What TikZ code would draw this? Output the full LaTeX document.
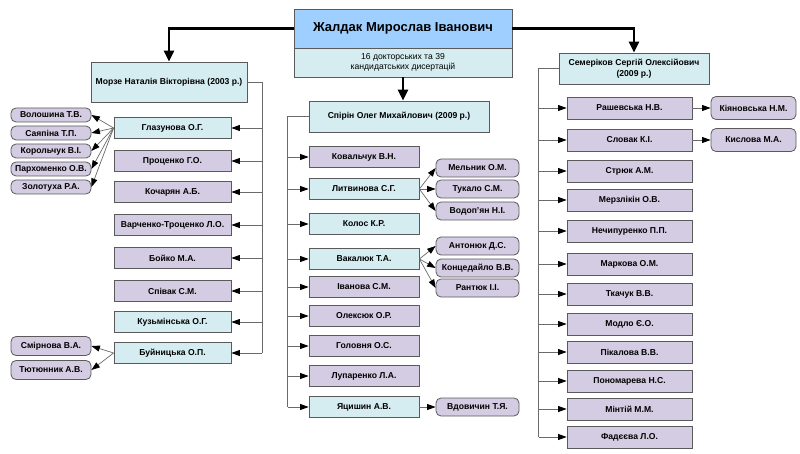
\documentclass[tikz,border=0pt]{standalone}
\usepackage{fontspec}
\setmainfont{Liberation Sans}
\usetikzlibrary{arrows.meta}
\definecolor{lav}{HTML}{D4CCE2}
\definecolor{cyn}{HTML}{D5EDF1}
\definecolor{topblue}{HTML}{9FCFFF}
\definecolor{bord}{HTML}{5A5A5A}
\definecolor{lin}{HTML}{6A6A6A}
\tikzset{
  base/.style={draw=bord, line width=0.8pt, inner sep=1pt, align=center, font=\bfseries\fontsize{8.6}{10.5}\selectfont},
  pbox/.style={base, fill=lav},
  cbox/.style={base, fill=cyn},
  rbox/.style={base, fill=lav, rounded corners=5pt},
  conn/.style={draw=lin, line width=0.7pt, -{Triangle[width=6pt,length=8.5pt,fill=black,color=black]}},
  trunk/.style={draw=lin, line width=0.7pt},
  big/.style={draw=black, line width=2.4pt, -{Triangle[width=10pt,length=11pt]}},
}
\begin{document}
\begin{tikzpicture}[x=1pt,y=-1pt]
\useasboundingbox (0,0) rectangle (800,454);
% top
\node[base, fill=topblue, minimum width=218pt, minimum height=39pt, font=\bfseries\fontsize{13}{15}\selectfont] (topU) at (403,28.5) {Жалдак Мирослав Іванович};
\node[base, fill=cyn, minimum width=218pt, minimum height=29pt, font=\fontsize{8.6}{10.5}\selectfont] (topL) at (403,62.5) {16 докторських та 39\\кандидатських дисертацій};
% heads
\node[cbox, minimum width=156pt, minimum height=40pt] (morze) at (169,82) {Морзе Наталія Вікторівна (2003 р.)};
\node[cbox, minimum width=180pt, minimum height=31pt] (spirin) at (399,116.5) {Спірін Олег Михайлович (2009 р.)};
\node[cbox, minimum width=150pt, minimum height=31pt] (sem) at (634,68.5) {Семеріков Сергій Олексійович\\(2009 р.)};
\draw[big] (topU.west) -| (morze.north);
\draw[big] (topU.east) -| (sem.north);
\draw[big] (topL.south) -- (topL.south |- spirin.north);
% left column
\tikzset{lc/.style={minimum width=117pt, minimum height=21pt}}
\node[cbox, lc] (l1) at (172.5,128) {Глазунова О.Г.};
\node[pbox, lc] (l2) at (172.5,161) {Проценко Г.О.};
\node[pbox, lc] (l3) at (172.5,192) {Кочарян А.Б.};
\node[pbox, lc] (l4) at (172.5,225) {Варченко-Троценко Л.О.};
\node[pbox, lc] (l5) at (172.5,258) {Бойко М.А.};
\node[pbox, lc] (l6) at (172.5,291) {Співак С.М.};
\node[cbox, lc] (l7) at (172.5,322) {Кузьмінська О.Г.};
\node[cbox, lc] (l8) at (172.5,353) {Буйницька О.П.};
\draw[trunk] (morze.east) -- ++(15,0) coordinate (lt) -- (lt |- l8.east);
\foreach \n in {l1,l2,l3,l4,l5,l6,l7,l8} \draw[conn] (lt |- \n.east) -- (\n.east);
\tikzset{ls/.style={minimum width=80pt, minimum height=14pt}}
\node[rbox, ls] (s1) at (51,115) {Волошина Т.В.};
\node[rbox, ls] (s2) at (51,133) {Саяпіна Т.П.};
\node[rbox, ls] (s3) at (51,151) {Корольчук В.І.};
\node[rbox, ls] (s4) at (51,169) {Пархоменко О.В.};
\node[rbox, ls] (s5) at (51,187) {Золотуха Р.А.};
\foreach \n in {s1,s2,s3,s4,s5} \draw[conn] (l1.west) -- (\n.east);
\node[rbox, minimum width=80pt, minimum height=19pt] (s6) at (51,346) {Смірнова В.А.};
\node[rbox, minimum width=80pt, minimum height=19pt] (s7) at (51,370) {Тютюнник А.В.};
\foreach \n in {s6,s7} \draw[conn] (l8.west) -- (\n.east);
% middle column
\tikzset{mc/.style={minimum width=110pt, minimum height=21pt}}
\node[pbox, mc] (m1) at (364,157) {Ковальчук В.Н.};
\node[cbox, mc] (m2) at (364,189) {Литвинова С.Г.};
\node[cbox, mc] (m3) at (364,224) {Колос К.Р.};
\node[cbox, mc] (m4) at (364,259) {Вакалюк Т.А.};
\node[pbox, mc] (m5) at (364,287) {Іванова С.М.};
\node[pbox, mc] (m6) at (364,316) {Олексюк О.Р.};
\node[pbox, mc] (m7) at (364,346) {Головня О.С.};
\node[pbox, mc] (m8) at (364,376) {Лупаренко Л.А.};
\node[cbox, mc] (m9) at (364,407) {Яцишин А.В.};
\draw[trunk] (spirin.west) -- ++(-21,0) coordinate (mt) -- (mt |- m9.west);
\foreach \n in {m1,m2,m3,m4,m5,m6,m7,m8,m9} \draw[conn] (mt |- \n.west) -- (\n.west);
\tikzset{ms/.style={minimum width=83pt, minimum height=18pt}}
\node[rbox, ms] (n1) at (477.5,168) {Мельник О.М.};
\node[rbox, ms] (n2) at (477.5,189) {Тукало С.М.};
\node[rbox, ms] (n3) at (477.5,211) {Водоп'ян Н.І.};
\node[rbox, ms] (n4) at (477.5,246) {Антонюк Д.С.};
\node[rbox, ms] (n5) at (477.5,268) {Концедайло В.В.};
\node[rbox, ms] (n6) at (477.5,288) {Рантюк І.І.};
\node[rbox, ms] (n7) at (477.5,407) {Вдовичин Т.Я.};
\foreach \n in {n1,n2,n3} \draw[conn] (m2.east) -- (\n.west);
\foreach \n in {n4,n5,n6} \draw[conn] (m4.east) -- (\n.west);
\draw[conn] (m9.east) -- (n7.west);
% right column
\tikzset{rc/.style={minimum width=125pt, minimum height=22pt}}
\node[pbox, rc] (r1) at (629.5,108) {Рашевська Н.В.};
\node[pbox, rc] (r2) at (629.5,140) {Словак К.І.};
\node[pbox, rc] (r3) at (629.5,171) {Стрюк А.М.};
\node[pbox, rc] (r4) at (629.5,200) {Мерзлікін О.В.};
\node[pbox, rc] (r5) at (629.5,231) {Нечипуренко П.П.};
\node[pbox, rc] (r6) at (629.5,264) {Маркова О.М.};
\node[pbox, rc] (r7) at (629.5,294) {Ткачук В.В.};
\node[pbox, rc] (r8) at (629.5,324) {Модло Є.О.};
\node[pbox, rc] (r9) at (629.5,352) {Пікалова В.В.};
\node[pbox, rc] (r10) at (629.5,381) {Пономарева Н.С.};
\node[pbox, rc] (r11) at (629.5,409) {Мінтій М.М.};
\node[pbox, rc] (r12) at (629.5,437) {Фадєєва Л.О.};
\draw[trunk] (sem.west) -- ++(-20,0) coordinate (rt) -- (rt |- r12.west);
\foreach \n in {r1,r2,r3,r4,r5,r6,r7,r8,r9,r10,r11,r12} \draw[conn] (rt |- \n.west) -- (\n.west);
\tikzset{rs/.style={minimum width=85pt, minimum height=23pt}}
\node[rbox, rs] (q1) at (753.5,108) {Кіяновська Н.М.};
\node[rbox, rs] (q2) at (753.5,140) {Кислова М.А.};
\draw[conn] (r1.east) -- (q1.west);
\draw[conn] (r2.east) -- (q2.west);
\end{tikzpicture}
\end{document}
